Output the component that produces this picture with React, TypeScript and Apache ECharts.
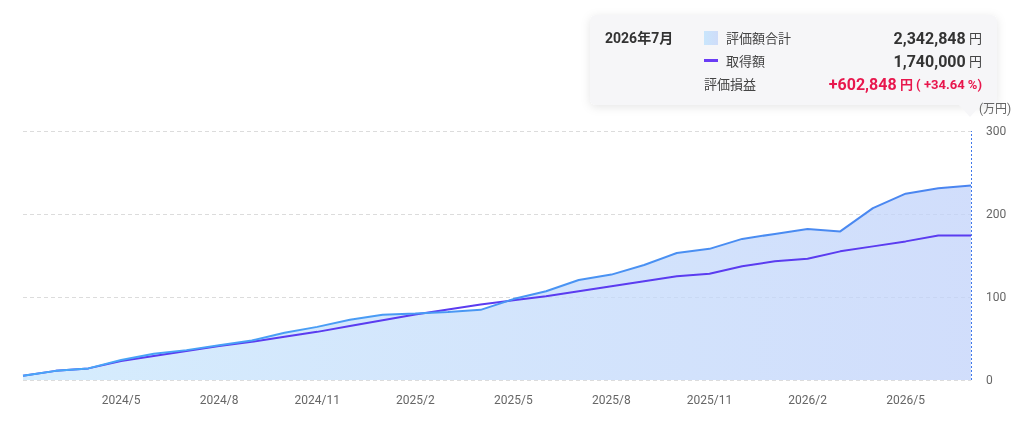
import React, { useEffect, useRef } from "react";
import * as echarts from "echarts";

const months: string[] = [
  "2024/2", "2024/3", "2024/4", "2024/5", "2024/6", "2024/7", "2024/8", "2024/9", "2024/10", "2024/11",
  "2024/12", "2025/1", "2025/2", "2025/3", "2025/4", "2025/5", "2025/6", "2025/7", "2025/8", "2025/9",
  "2025/10", "2025/11", "2025/12", "2026/1", "2026/2", "2026/3", "2026/4", "2026/5", "2026/6", "2026/7",
];

// 万円
const valuation: number[] = [
  5, 11, 14, 24, 31.5, 36, 42, 47.5, 57, 64,
  72.5, 78.5, 80, 82, 84.5, 97.5, 107, 120.5, 127, 138.5,
  153, 158, 170, 176, 182, 179, 207, 224.5, 231, 234.2848,
];

const acquisition: number[] = [
  5, 11, 14, 23, 29, 35, 41, 46, 52, 58,
  65, 72, 79, 85, 91, 96, 101, 107, 113, 119,
  125, 128, 137, 143, 146, 155, 161, 167, 174, 174,
];

const yTicks = { min: 0, max: 300, interval: 100 };

const FONT = "Roboto, 'Noto Sans CJK JP', sans-serif";

export default function App() {
  const ref = useRef<HTMLDivElement>(null);
  useEffect(() => {
    if (!ref.current) return;
    const chart = echarts.init(ref.current, undefined, { renderer: "svg" });
    const last = months.length - 1;
    const totalYen = Math.round(valuation[last] * 10000);
    const costYen = Math.round(acquisition[last] * 10000);
    const gain = totalYen - costYen;
    const pct = (Math.floor((gain / costYen) * 10000) / 100).toFixed(2);
    const fmt = (n: number) => n.toLocaleString("en-US");
    const [yy, mm] = months[last].split("/");

    chart.setOption({
      animation: false,
      textStyle: { fontFamily: FONT },
      grid: { left: 23, right: 53, top: 131, bottom: 41 },
      xAxis: {
        type: "category",
        data: months,
        boundaryGap: false,
        axisLine: { show: false },
        axisTick: { show: false },
        axisLabel: {
          interval: (idx: number) => idx % 3 === 0 && idx > 0,
          color: "#666",
          fontSize: 12,
          margin: 14,
          fontFamily: FONT,
        },
        splitLine: { show: false },
      },
      yAxis: {
        type: "value",
        position: "right",
        min: yTicks.min,
        max: yTicks.max,
        interval: yTicks.interval,
        name: "(万円)",
        nameLocation: "end",
        nameGap: 16,
        nameTextStyle: { color: "#666", fontSize: 12, align: "left", padding: [0, 0, 0, 8], fontFamily: FONT },
        axisLine: { show: false },
        axisTick: { show: false },
        axisLabel: { color: "#666", fontSize: 12, margin: 15, fontFamily: FONT },
        splitLine: { show: true, lineStyle: { color: "#dcdcdc", type: [4, 3], width: 1 } },
      },
      series: [
        {
          name: "評価額合計area",
          type: "line",
          data: valuation,
          symbol: "none",
          lineStyle: { width: 0 },
          areaStyle: {
            opacity: 1,
            color: new echarts.graphic.LinearGradient(0, 0, 1, 0, [
              { offset: 0, color: "rgba(199,230,252,0.75)" },
              { offset: 1, color: "rgba(193,210,250,0.75)" },
            ]),
          },
          markLine: {
            symbol: "none",
            silent: true,
            label: { show: false },
            lineStyle: { color: "#3f78ea", type: [2, 2], width: 1, opacity: 1 },
            emphasis: { disabled: true },
            data: [{ xAxis: months[last] }],
          },
          z: 1,
        },
        {
          name: "取得額",
          type: "line",
          data: acquisition,
          symbol: "none",
          lineStyle: { color: "#5b3cf0", width: 2 },
          z: 2,
        },
        {
          name: "評価額合計",
          type: "line",
          data: valuation,
          symbol: "none",
          lineStyle: {
            width: 2,
            color: new echarts.graphic.LinearGradient(0, 0, 1, 0, [
              { offset: 0, color: "#48a8f7" },
              { offset: 1, color: "#4a84f0" },
            ]),
          },
          z: 3,
        },
      ],
      graphic: [
        {
          type: "group",
          z: 100,
          children: [
            {
              type: "rect",
              shape: { x: 590, y: 15, width: 407, height: 90, r: 6 },
              style: { fill: "#f6f6f8", shadowBlur: 10, shadowColor: "rgba(0,0,0,0.10)", shadowOffsetY: 2 },
            },
            {
              type: "polygon",
              shape: { points: [[958, 104], [982, 104], [970, 117]] },
              style: { fill: "#f6f6f8" },
            },
            {
              type: "text",
              x: 605,
              y: 38,
              style: {
                text: `${yy}年${Number(mm)}月`,
                fill: "#333",
                font: `bold 14px ${FONT}`,
                textVerticalAlign: "middle",
              },
            },
            {
              type: "rect",
              shape: { x: 704, y: 31, width: 14, height: 14 },
              style: {
                fill: new echarts.graphic.LinearGradient(0, 0, 1, 0, [
                  { offset: 0, color: "#c9e6fc" },
                  { offset: 1, color: "#cfdcf9" },
                ]),
              },
            },
            {
              type: "text",
              x: 726,
              y: 38,
              style: { text: "評価額合計", fill: "#444", font: `13px ${FONT}`, textVerticalAlign: "middle" },
            },
            {
              type: "rect",
              shape: { x: 704, y: 59, width: 14, height: 3 },
              style: { fill: "#6a3cf5" },
            },
            {
              type: "text",
              x: 726,
              y: 61,
              style: { text: "取得額", fill: "#444", font: `13px ${FONT}`, textVerticalAlign: "middle" },
            },
            {
              type: "text",
              x: 704,
              y: 84,
              style: { text: "評価損益", fill: "#444", font: `13px ${FONT}`, textVerticalAlign: "middle" },
            },
            {
              type: "text",
              x: 982,
              y: 38,
              style: {
                text: `{n|${fmt(totalYen)}} {u|円}`,
                textAlign: "right",
                textVerticalAlign: "middle",
                rich: {
                  n: { fill: "#333", color: "#333", fontSize: 16, fontWeight: "bold", fontFamily: FONT },
                  u: { fill: "#444", color: "#444", fontSize: 13, fontFamily: FONT },
                },
              },
            },
            {
              type: "text",
              x: 982,
              y: 61,
              style: {
                text: `{n|${fmt(costYen)}} {u|円}`,
                textAlign: "right",
                textVerticalAlign: "middle",
                rich: {
                  n: { fill: "#333", color: "#333", fontSize: 16, fontWeight: "bold", fontFamily: FONT },
                  u: { fill: "#444", color: "#444", fontSize: 13, fontFamily: FONT },
                },
              },
            },
            {
              type: "text",
              x: 982,
              y: 84,
              style: {
                text: `{n|+${fmt(gain)}} {u|円 ( +${pct} %)}`,
                textAlign: "right",
                textVerticalAlign: "middle",
                rich: {
                  n: { fill: "#e8174d", color: "#e8174d", fontSize: 16, fontWeight: "bold", fontFamily: FONT },
                  u: { fill: "#e8174d", color: "#e8174d", fontSize: 13, fontWeight: "bold", fontFamily: FONT },
                },
              },
            },
          ],
        },
      ],
    });
    return () => chart.dispose();
  }, []);

  return <div ref={ref} style={{ width: 1024, height: 421, position: "fixed", left: 0, top: 0 }} />;
}
